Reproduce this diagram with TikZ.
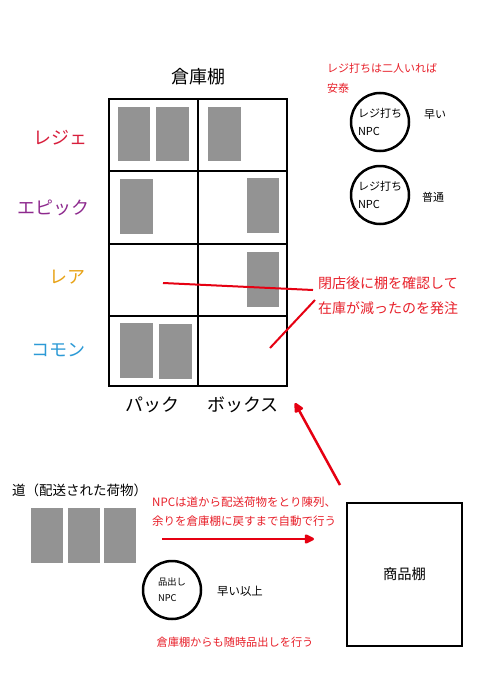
\documentclass[tikz,border=0pt]{standalone}
\usepackage{fontspec}
\setmainfont{Noto Sans CJK JP}
\usetikzlibrary{arrows.meta}
\definecolor{cred}{HTML}{E8202A}
\definecolor{lred}{HTML}{E60012}
\definecolor{cregi}{HTML}{D81E3C}
\definecolor{cepic}{HTML}{8E2A8E}
\definecolor{crare}{HTML}{E8A317}
\definecolor{ccom}{HTML}{2C9AD6}
\definecolor{cgray}{HTML}{939393}
\begin{document}
\begin{tikzpicture}[x=1pt,y=-1pt,
  gridline/.style={line width=2pt,black},
  cardbox/.style={fill=cgray},
  biglbl/.style={inner sep=0pt,font=\fontsize{18}{20}\selectfont},
  note/.style={inner sep=0pt,anchor=west,align=left,text=cred},
  npc/.style={draw,circle,line width=2.5pt,minimum size=58pt,inner sep=0pt,align=left},
  plain/.style={inner sep=0pt},
  redline/.style={lred,line width=2pt},
  redarrow/.style={lred,line width=2.5pt,-{Triangle[length=11pt,width=10pt,round]}}
]
\useasboundingbox (0,0) rectangle (481,680);
\fill[white] (0,0) rectangle (481,680);

% warehouse shelf grid
\draw[gridline] (109,99) rectangle (287,386);
\draw[gridline] (198,99) -- (198,386);
\draw[gridline] (109,171) -- (287,171);
\draw[gridline] (109,244) -- (287,244);
\draw[gridline] (109,316) -- (287,316);

% cards on shelf
\fill[cardbox] (118,107) rectangle (150,161);
\fill[cardbox] (156,107) rectangle (189,161);
\fill[cardbox] (208,107) rectangle (241,161);
\fill[cardbox] (120,179) rectangle (153,234);
\fill[cardbox] (247,178) rectangle (279,233);
\fill[cardbox] (247,252) rectangle (279,307);
\fill[cardbox] (120,323) rectangle (153,378);
\fill[cardbox] (159,324) rectangle (192,379);

% labels
\node[biglbl] (title) at (198,77) {倉庫棚};
\node[biglbl,text=cregi] (lregi) at (60,138) {レジェ};
\node[biglbl,text=cepic] (lepic) at (53,208) {エピック};
\node[biglbl,text=crare] (lrare) at (67,277) {レア};
\node[biglbl,text=ccom] (lcom) at (58,350) {コモン};
\node[biglbl] (lpack) at (152,405) {パック};
\node[biglbl] (lbox) at (243,405) {ボックス};

% order note
\node[note,font=\fontsize{14}{25}\selectfont] (order) at (318,296) {閉店後に棚を確認して\\在庫が減ったのを発注};
\coordinate (o1) at (163,283);
\coordinate (o1e) at (313,290);
\coordinate (o2) at (315,300);
\coordinate (o2e) at (270,348);
\draw[redline] (o1) -- (o1e);
\draw[redline] (o2) -- (o2e);

% register NPCs
\node[note,font=\fontsize{11}{20}\selectfont] (regnote) at (327,78) {レジ打ちは二人いれば\\安泰};
\node[npc,font=\fontsize{11}{18}\selectfont] (reg1) at (380,122) {レジ打ち\\NPC};
\node[plain,font=\fontsize{11}{13}\selectfont] (fast1) at (435,115) {早い};
\node[npc,font=\fontsize{11}{18}\selectfont] (reg2) at (380,195) {レジ打ち\\NPC};
\node[plain,font=\fontsize{11}{13}\selectfont] (norm) at (433,197) {普通};

% road
\node[plain,anchor=west,font=\fontsize{13.5}{16}\selectfont] (road) at (12,490) {道（配送された荷物）};
\fill[cardbox] (31,508) rectangle (63,563);
\fill[cardbox] (68,508) rectangle (100,563);
\fill[cardbox] (104,508) rectangle (136,563);

\node[note,font=\fontsize{11.5}{19}\selectfont] (auto) at (152,512) {NPCは道から配送荷物をとり陳列、\\余りを倉庫棚に戻すまで自動で行う};
\coordinate (a1) at (162,539);
\coordinate (a1e) at (314,539);
\draw[redarrow] (a1) -- (a1e);

\node[npc,minimum size=58pt,font=\fontsize{9.3}{16}\selectfont] (stock) at (172,590) {品出し\\NPC};
\node[plain,font=\fontsize{11.4}{13}\selectfont] (fast2) at (240,591) {早い以上};
\node[plain,text=cred,font=\fontsize{11.2}{13}\selectfont] (also) at (235,642) {倉庫棚からも随時品出しを行う};

% product shelf
\node[draw,line width=2.5pt,minimum width=115pt,minimum height=143pt,inner sep=0pt,font=\fontsize{14.3}{16}\selectfont] (shelf) at (404.5,574.5) {商品棚};
\coordinate (b1) at (340,485);
\coordinate (b1e) at (295,403);
\draw[redarrow] (b1) -- (b1e);
\end{tikzpicture}
\end{document}
